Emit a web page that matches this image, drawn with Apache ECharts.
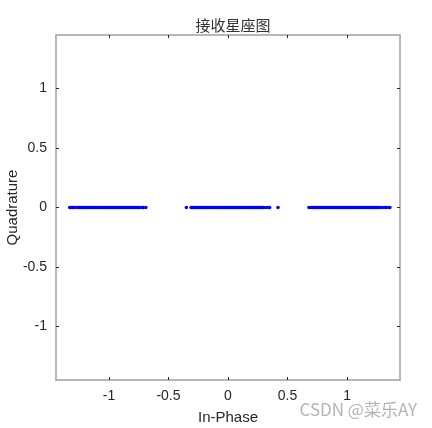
<!DOCTYPE html>
<html>
<head>
<meta charset="utf-8">
<script src="https://cdn.jsdelivr.net/npm/echarts@6/dist/echarts.min.js"></script>
<style>html,body{margin:0;padding:0;background:#fff;}#c{width:432px;height:428px;}</style>
</head>
<body>
<div id="c"></div>
<script>
// Received in-phase values (all quadrature values are 0)
const inPhase = [
  -1.33,-1.32,-1.31,-1.30,-1.29,-1.27,-1.26,-1.25,-1.24,-1.23,-1.22,-1.21,-1.20,-1.19,-1.18,-1.17,-1.16,-1.15,-1.14,-1.13,
  -1.12,-1.11,-1.10,-1.09,-1.08,-1.07,-1.06,-1.05,-1.04,-1.03,-1.02,-1.01,-1.00,-0.99,-0.98,-0.97,-0.96,-0.95,-0.94,-0.93,
  -0.92,-0.91,-0.90,-0.89,-0.88,-0.87,-0.86,-0.85,-0.84,-0.83,-0.82,-0.81,-0.80,-0.79,-0.78,-0.77,-0.76,-0.75,-0.74,-0.72,-0.71,-0.69,
  -0.35,
  -0.31,-0.30,-0.29,-0.28,-0.27,-0.26,-0.25,-0.24,-0.23,-0.22,-0.21,-0.20,-0.19,-0.18,-0.17,-0.16,-0.15,-0.14,-0.13,-0.12,
  -0.11,-0.10,-0.09,-0.08,-0.07,-0.06,-0.05,-0.04,-0.03,-0.02,-0.01,0.00,0.01,0.02,0.03,0.04,0.05,0.06,0.07,0.08,
  0.09,0.10,0.11,0.12,0.13,0.14,0.15,0.16,0.17,0.18,0.19,0.20,0.21,0.22,0.23,0.24,0.25,0.26,0.27,0.28,0.29,0.30,
  0.32,0.34,0.35,
  0.42,
  0.68,0.70,0.71,0.72,0.73,0.74,0.75,0.76,0.77,0.78,0.79,0.80,0.81,0.82,0.83,0.84,0.85,0.86,0.87,0.88,
  0.89,0.90,0.91,0.92,0.93,0.94,0.95,0.96,0.97,0.98,0.99,1.00,1.01,1.02,1.03,1.04,1.05,1.06,1.07,1.08,
  1.09,1.10,1.11,1.12,1.13,1.14,1.15,1.16,1.17,1.18,1.19,1.20,1.21,1.22,1.23,1.24,1.25,1.26,1.27,1.28,1.30,1.32,1.33,1.35,1.36
];
const quadrature = inPhase.map(() => 0);
const xTicks = [-1, -0.5, 0, 0.5, 1];
const yTicks = [-1, -0.5, 0, 0.5, 1];

const points = inPhase.map((x, i) => [x, quadrature[i]]);
const font = '"Liberation Sans", Arial, sans-serif';

function makeAxis(ticks, lim, extra) {
  return Object.assign({
    type: 'value', min: -lim, max: lim,
    axisLine: { show: true, onZero: false, lineStyle: { color: '#a0a0a0', width: 1.5 } },
    axisTick: { show: true, inside: true, length: 3, customValues: ticks, lineStyle: { color: '#262626', width: 1 } },
    splitLine: { show: false },
    axisLabel: { show: false, customValues: ticks }
  }, extra);
}

const chart = echarts.init(document.getElementById('c'), null, { renderer: 'canvas' });
chart.setOption({
  backgroundColor: '#fff',
  animation: false,
  title: {
    text: '接收星座图', left: 228, top: 13, textAlign: 'center',
    textStyle: { fontFamily: '"Noto Sans CJK SC", sans-serif', fontSize: 15, fontWeight: 'normal', color: '#333' }
  },
  grid: { left: 56, right: 32, top: 35, bottom: 48, containLabel: false, outerBoundsMode: 'none' },
  xAxis: [
    makeAxis(xTicks, 1.445, {
      position: 'bottom',
      axisLabel: { show: true, customValues: xTicks, formatter: v => String(v), color: '#262626', fontSize: 14, fontFamily: font, margin: 9 },
      name: 'In-Phase', nameLocation: 'middle', nameGap: 30, nameMoveOverlap: false,
      nameTextStyle: { color: '#262626', fontSize: 15, fontFamily: font }
    }),
    makeAxis(xTicks, 1.445, { position: 'top' })
  ],
  yAxis: [
    makeAxis(yTicks, 1.45, {
      position: 'left',
      axisLabel: { show: true, customValues: yTicks, formatter: v => String(v), color: '#262626', fontSize: 14, fontFamily: font, margin: 9 },
      name: 'Quadrature', nameLocation: 'middle', nameGap: 36, nameRotate: 90, nameMoveOverlap: false,
      nameTextStyle: { color: '#262626', fontSize: 15, fontFamily: font }
    }),
    makeAxis(yTicks, 1.45, { position: 'right' })
  ],
  graphic: [{
    type: 'text', right: 15, top: 401,
    style: { text: 'CSDN @菜乐AY', fill: '#b4b4b4', fontSize: 17, fontFamily: '"Noto Sans CJK SC", ' + font }
  }],
  series: [{
    type: 'scatter', xAxisIndex: 0, yAxisIndex: 0,
    data: points, symbol: 'circle', symbolSize: 3.5,
    itemStyle: { color: '#0000ff', opacity: 1 }
  }]
});
</script>
</body>
</html>
